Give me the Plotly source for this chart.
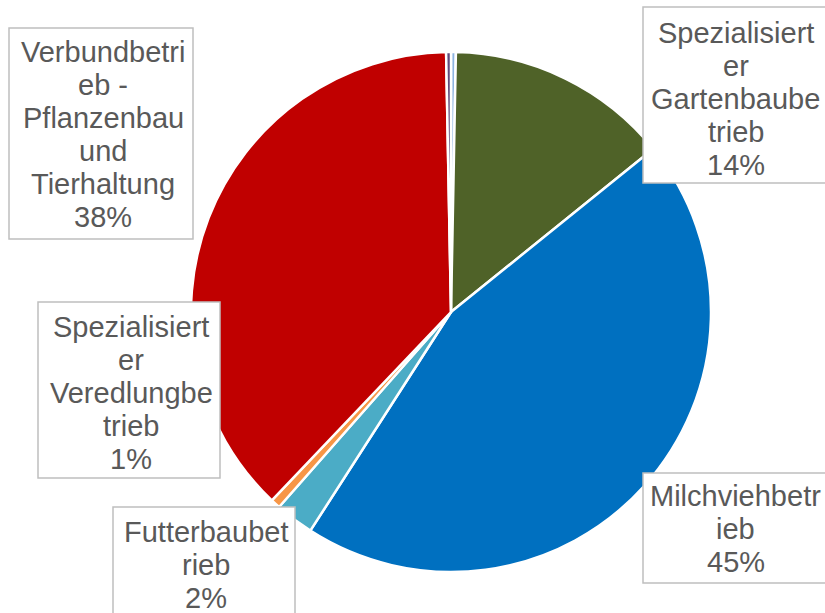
import plotly.graph_objects as go

# slices in clockwise order starting at 12 o'clock
names = ["Spezialisierter Ackerbaubetrieb",
         "Spezialisierter Gartenbaubetrieb",
         "Milchviehbetrieb",
         "Futterbaubetrieb",
         "Spezialisierter Veredlungbetrieb",
         "Verbundbetrieb - Pflanzenbau und Tierhaltung",
         "Spezialisierter Dauerkulturbetrieb"]
shares = [0.3, 13.9, 44.9, 2.4, 0.6, 37.6, 0.3]
colors = ["#8DB4E2", "#4F6228", "#0070C0", "#4BACC6", "#F79646", "#C00000", "#604A7B"]

# label lines as wrapped in the chart (percentage on last line)
label_lines = [["Spezialisiert", "er", "Gartenbaube", "trieb", "14%"],
               ["Milchviehbetr", "ieb", "45%"],
               ["Futterbaubet", "rieb", "2%"],
               ["Spezialisiert", "er", "Veredlungbe", "trieb", "1%"],
               ["Verbundbetri", "eb -", "Pflanzenbau", "und", "Tierhaltung", "38%"]]
# label boxes: x0, y0, x1, y1 and y of the first line, in pixels
label_box = [(643, 7, 826, 183, 33),
             (643, 473, 826, 583, 496),
             (113, 507, 295, 620, 532),
             (38, 302, 220, 478, 327),
             (9, 28, 193, 239, 52)]
line_step = 33

W, H = 825, 613

fig = go.Figure(go.Pie(
    labels=names, values=shares, sort=False, direction="clockwise", rotation=0,
    marker=dict(colors=colors, line=dict(color="white", width=2.5)),
    textinfo="none", showlegend=False, hoverinfo="label+percent",
    domain=dict(x=[191 / W, 711 / W], y=[1 - 572 / H, 1 - 52 / H]),
))

for lines, (x0, y0, x1, y1, ty) in zip(label_lines, label_box):
    fig.add_shape(type="rect", xref="paper", yref="paper",
                  x0=x0 / W, x1=x1 / W, y0=1 - y0 / H, y1=1 - y1 / H,
                  fillcolor="white", line=dict(color="#BFBFBF", width=1.5))
    cx = (x0 + min(x1, 824)) / 2 + 2
    for k, line in enumerate(lines):
        fig.add_annotation(
            x=cx / W, y=1 - (ty + k * line_step) / H, xref="paper", yref="paper",
            text=line, showarrow=False, xanchor="center", yanchor="middle",
            font=dict(family="Liberation Sans, Arial", size=29, color="#595959"),
        )

fig.update_layout(
    width=W, height=H,
    margin=dict(l=0, r=0, t=0, b=0),
    paper_bgcolor="white", plot_bgcolor="white",
)

fig.write_html("out.html", config={"displayModeBar": False},
               post_script="document.body.style.margin='0';")
